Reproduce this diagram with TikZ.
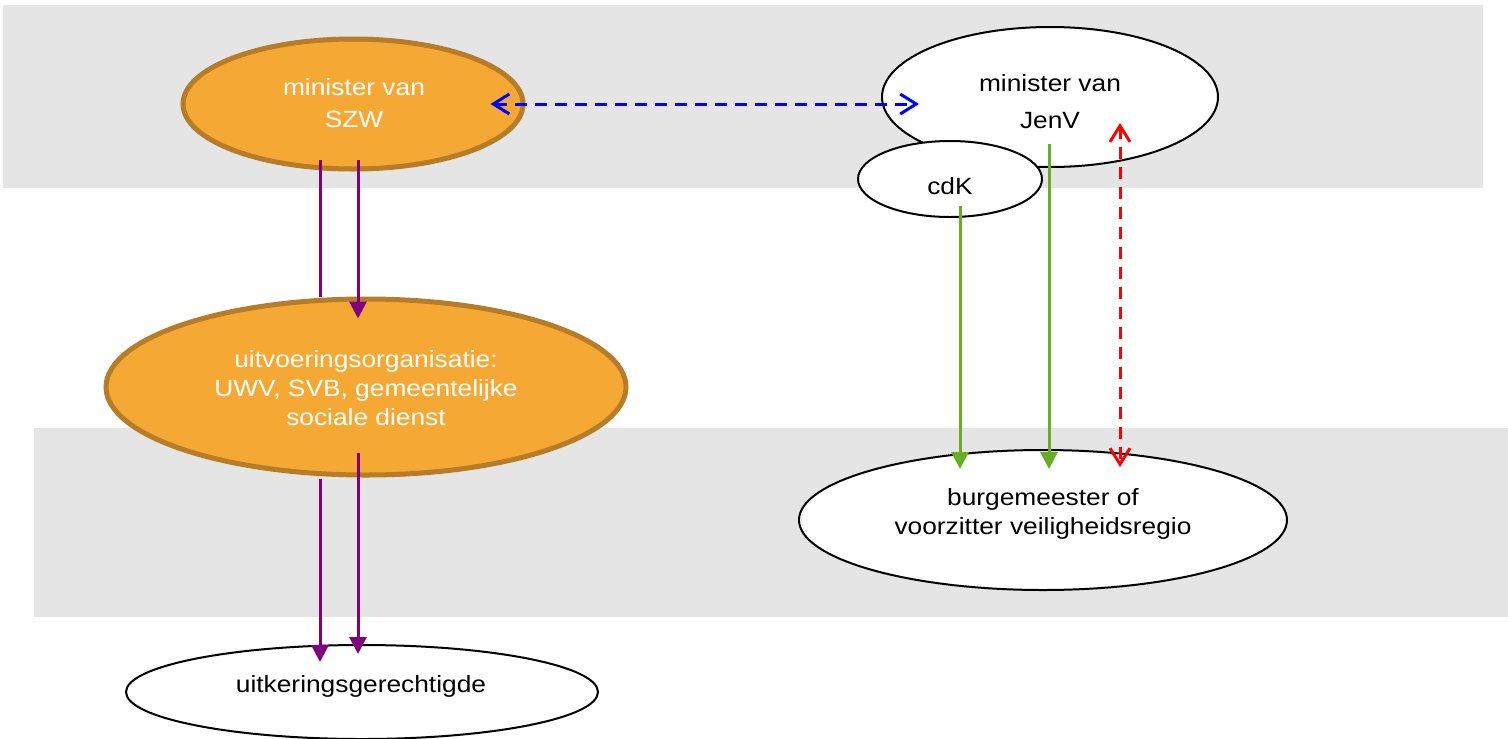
\documentclass[tikz,border=0pt]{standalone}
\usepackage{fontspec}
\setmainfont{Liberation Sans}[FakeStretch=1.12]
\usetikzlibrary{shapes.geometric,arrows.meta}
\newdimen\pxu \pxu=0.02cm
\definecolor{band}{HTML}{E5E5E5}
\definecolor{orfill}{HTML}{F6A834}
\definecolor{ordraw}{HTML}{B77C27}
\definecolor{purp}{HTML}{800080}
\definecolor{grn}{HTML}{68AE23}
\tikzset{
  ell/.style={ellipse, inner sep=0pt},
  orell/.style={ell, fill=orfill, draw=ordraw, line width=0.1cm},
  whell/.style={ell, fill=white, draw=black, line width=0.04cm},
  txt/.style={align=center, inner sep=0pt, font=\fontsize{23.5\pxu}{29\pxu}\selectfont},
  purpline/.style={draw=purp, line width=0.06cm},
  purparrow/.style={purpline, -{Triangle[width=0.34cm,length=0.34cm]}},
  grnarrow/.style={draw=grn, line width=0.06cm, -{Triangle[width=0.34cm,length=0.34cm]}},
  bluearrow/.style={draw=blue, line width=0.06cm, dash pattern=on 0.24cm off 0.16cm,
     {Straight Barb[width=0.4cm,length=0.32cm]}-{Straight Barb[width=0.4cm,length=0.32cm]}},
  redarrow/.style={draw=red, line width=0.06cm, dash pattern=on 0.24cm off 0.16cm,
     {Straight Barb[width=0.4cm,length=0.32cm]}-{Straight Barb[width=0.4cm,length=0.32cm]}},
}
\begin{document}
\begin{tikzpicture}[x=0.02cm, y=-0.02cm]
\useasboundingbox (0,0) rectangle (1508,738);
% bands
\fill[band] (3,5) rectangle (1483,188);
\fill[band] (34,428) rectangle (1508,617);
% ellipses
\node[orell, minimum width=340\pxu, minimum height=130\pxu] (szw) at (353,104) {};
\node[orell, minimum width=520\pxu, minimum height=176\pxu] (uitv) at (366,387) {};
\node[whell, minimum width=472\pxu, minimum height=94\pxu] (uitk) at (362,692) {};
\node[whell, minimum width=336\pxu, minimum height=140\pxu] (jenv) at (1050,97) {};
\node[whell, minimum width=184\pxu, minimum height=76\pxu] (cdk) at (950,179) {};
\node[whell, minimum width=488\pxu, minimum height=140\pxu] (burg) at (1043,520) {};
% texts
\node[txt, text=white] (szwt) at (354,103) {minister van\\[3\pxu]SZW};
\node[txt, text=white] (uitvt) at (366,388) {uitvoeringsorganisatie:\\UWV, SVB, gemeentelijke\\sociale dienst};
\node[txt] (uitkt) at (361,686) {uitkeringsgerechtigde};
\node[txt] (jenvt) at (1050,102) {minister van\\[8\pxu]JenV};
\node[txt] (cdkt) at (950,186) {cdK};
\node[txt] (burgt) at (1043,514) {burgemeester of\\voorzitter veiligheidsregio};
% connectors
\draw[purpline] ([xshift=-33\pxu,yshift=12\pxu]szw.south) -- ([xshift=-46\pxu]uitv.north);
\draw[purparrow] ([xshift=5\pxu,yshift=12\pxu]szw.south) -- ([xshift=-8\pxu,yshift=-22\pxu]uitv.north);
\draw[purparrow] ([xshift=-46\pxu,yshift=-1\pxu]uitv.south) -- ([xshift=-42\pxu,yshift=-18\pxu]uitk.north);
\draw[purparrow] ([xshift=-8\pxu,yshift=25\pxu]uitv.south) -- ([xshift=-4\pxu,yshift=-10\pxu]uitk.north);
\draw[grnarrow] ([xshift=10\pxu,yshift=12\pxu]cdk.south) -- ([xshift=-83\pxu,yshift=-20\pxu]burg.north);
\draw[grnarrow] ([xshift=-1\pxu,yshift=24\pxu]jenv.south) -- ([xshift=6\pxu,yshift=-20\pxu]burg.north);
\draw[redarrow] ([xshift=70\pxu,yshift=45\pxu]jenv.south) -- ([xshift=77\pxu,yshift=-18\pxu]burg.north);
\draw[bluearrow] ([xshift=-35\pxu]szw.east) -- ([xshift=38\pxu,yshift=-7\pxu]jenv.west);
\end{tikzpicture}
\end{document}
